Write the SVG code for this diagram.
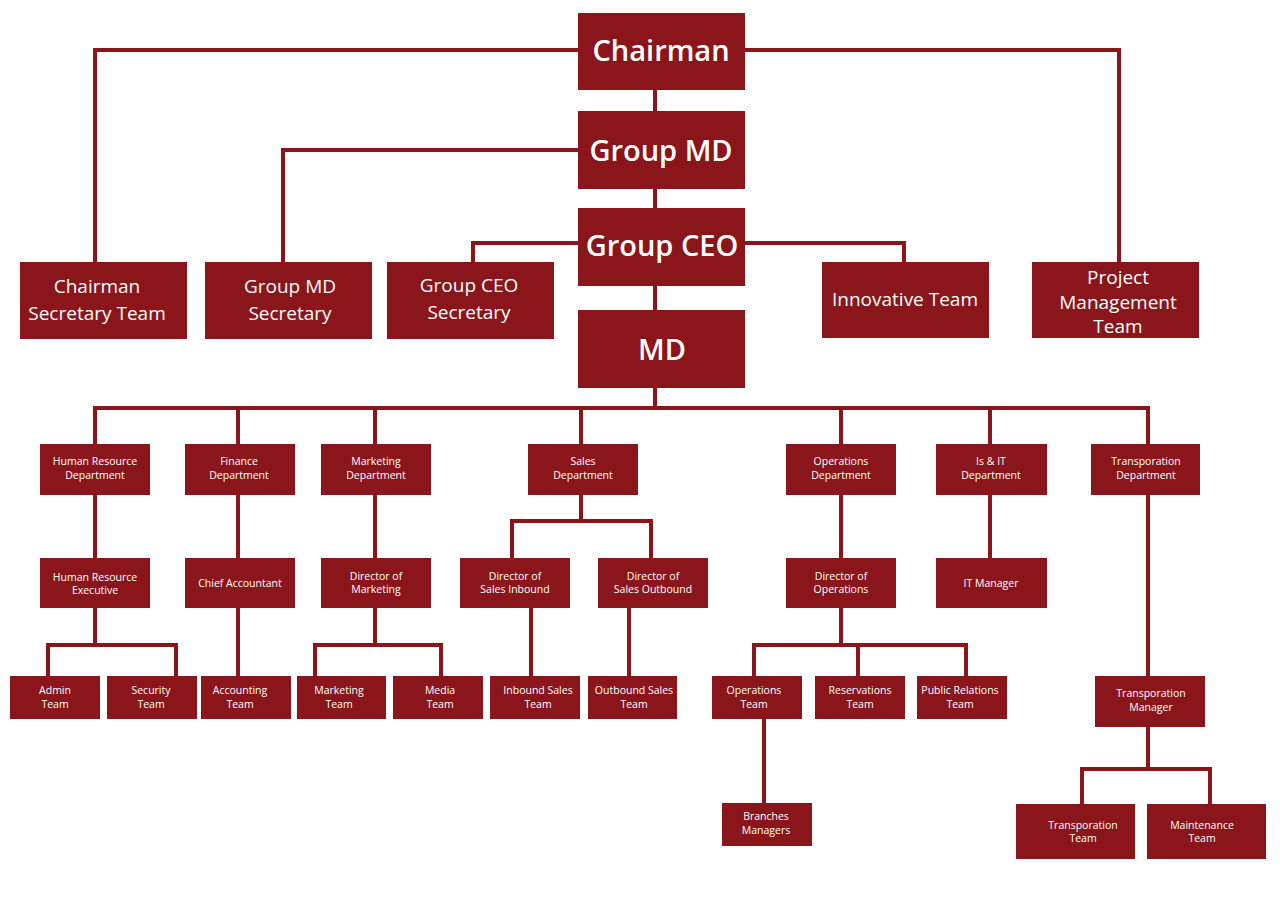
<svg xmlns="http://www.w3.org/2000/svg" width="1280" height="906" viewBox="0 0 1280 906">
<style>
.bg{fill:#ffffff}
.box{fill:#8a161b}
.c{fill:none;stroke:#8a161b;stroke-width:4}
text{fill:#ffffff;font-family:"Open Sans","Liberation Sans",sans-serif;text-anchor:middle}
.xl{font-size:29px;font-weight:600}
.l{font-size:19px}
.s{font-size:10.5px}
</style>
<rect class="bg" x="0" y="0" width="1280" height="906"/>
<g id="connectors">
<path class="c" d="M578 50 H95 V262"/>
<path class="c" d="M745 50 H1119 V262"/>
<path class="c" d="M578 150 H283 V262"/>
<path class="c" d="M578 243 H473 V262"/>
<path class="c" d="M745 243 H904 V262"/>
<path class="c" d="M655 90 V408"/>
<path class="c" d="M95 444 V408 H1148 V444"/>
<path class="c" d="M238 408 V444 M375 408 V444 M581 408 V444 M841 408 V444 M990 408 V444"/>
<path class="c" d="M95 495 V558 M95 608 V645"/>
<path class="c" d="M48 676 V645 H176 V676"/>
<path class="c" d="M238 495 V558 M238 608 V676"/>
<path class="c" d="M375 495 V558 M375 608 V645"/>
<path class="c" d="M315 676 V645 H441 V676"/>
<path class="c" d="M581 495 V521"/>
<path class="c" d="M512 558 V521 H651 V558"/>
<path class="c" d="M531 608 V676 M629 608 V676"/>
<path class="c" d="M841 495 V558 M841 608 V645"/>
<path class="c" d="M754 676 V645 H966 V676 M858 645 V676"/>
<path class="c" d="M764 719 V803"/>
<path class="c" d="M990 495 V558"/>
<path class="c" d="M1148 495 V676 M1148 727 V769"/>
<path class="c" d="M1082 804 V769 H1210 V804"/>
</g>
<g id="chairman"><rect class="box" x="578" y="13" width="167" height="77"/><text class="xl" x="661" y="61">Chairman</text></g>
<g id="group-md"><rect class="box" x="578" y="111" width="167" height="78"/><text class="xl" x="661" y="161">Group MD</text></g>
<g id="group-ceo"><rect class="box" x="578" y="208" width="167" height="78"/><text class="xl" x="662" y="256">Group CEO</text></g>
<g id="md"><rect class="box" x="578" y="310" width="167" height="78"/><text class="xl" x="662" y="360">MD</text></g>
<g id="chairman-secretary"><rect class="box" x="20" y="262" width="167" height="77"/><text class="l" x="97" y="293">Chairman</text><text class="l" x="97" y="320">Secretary Team</text></g>
<g id="group-md-secretary"><rect class="box" x="205" y="262" width="167" height="77"/><text class="l" x="290" y="293">Group MD</text><text class="l" x="290" y="320">Secretary</text></g>
<g id="group-ceo-secretary"><rect class="box" x="387" y="262" width="167" height="77"/><text class="l" x="469" y="292">Group CEO</text><text class="l" x="469" y="319">Secretary</text></g>
<g id="innovative-team"><rect class="box" x="822" y="262" width="167" height="76"/><text class="l" x="905" y="306">Innovative Team</text></g>
<g id="project-management"><rect class="box" x="1032" y="262" width="167" height="76"/><text class="l" x="1118" y="284">Project</text><text class="l" x="1118" y="309">Management</text><text class="l" x="1118" y="333">Team</text></g>
<g id="hr-dept"><rect class="box" x="40" y="444" width="110" height="51"/><text class="s" x="95" y="465">Human Resource</text><text class="s" x="95" y="479">Department</text></g>
<g id="finance-dept"><rect class="box" x="185" y="444" width="110" height="51"/><text class="s" x="239" y="465">Finance</text><text class="s" x="239" y="479">Department</text></g>
<g id="marketing-dept"><rect class="box" x="321" y="444" width="110" height="51"/><text class="s" x="376" y="465">Marketing</text><text class="s" x="376" y="479">Department</text></g>
<g id="sales-dept"><rect class="box" x="528" y="444" width="110" height="51"/><text class="s" x="583" y="465">Sales</text><text class="s" x="583" y="479">Department</text></g>
<g id="operations-dept"><rect class="box" x="786" y="444" width="110" height="51"/><text class="s" x="841" y="465">Operations</text><text class="s" x="841" y="479">Department</text></g>
<g id="isit-dept"><rect class="box" x="936" y="444" width="111" height="51"/><text class="s" x="991" y="465">Is &amp; IT</text><text class="s" x="991" y="479">Department</text></g>
<g id="transport-dept"><rect class="box" x="1091" y="444" width="109" height="51"/><text class="s" x="1146" y="465">Transporation</text><text class="s" x="1146" y="479">Department</text></g>
<g id="hr-exec"><rect class="box" x="40" y="558" width="110" height="50"/><text class="s" x="95" y="581">Human Resource</text><text class="s" x="95" y="594">Executive</text></g>
<g id="chief-accountant"><rect class="box" x="185" y="558" width="110" height="50"/><text class="s" x="240" y="587">Chief Accountant</text></g>
<g id="dir-marketing"><rect class="box" x="321" y="558" width="110" height="50"/><text class="s" x="376" y="580">Director of</text><text class="s" x="376" y="593">Marketing</text></g>
<g id="dir-sales-in"><rect class="box" x="460" y="558" width="110" height="50"/><text class="s" x="515" y="580">Director of</text><text class="s" x="515" y="593">Sales Inbound</text></g>
<g id="dir-sales-out"><rect class="box" x="598" y="558" width="110" height="50"/><text class="s" x="653" y="580">Director of</text><text class="s" x="653" y="593">Sales Outbound</text></g>
<g id="dir-operations"><rect class="box" x="786" y="558" width="110" height="50"/><text class="s" x="841" y="580">Director of</text><text class="s" x="841" y="593">Operations</text></g>
<g id="it-manager"><rect class="box" x="936" y="558" width="111" height="50"/><text class="s" x="991" y="587">IT Manager</text></g>
<g id="admin-team"><rect class="box" x="10" y="676" width="90" height="43"/><text class="s" x="55" y="694">Admin</text><text class="s" x="55" y="708">Team</text></g>
<g id="security-team"><rect class="box" x="107" y="676" width="90" height="43"/><text class="s" x="151" y="694">Security</text><text class="s" x="151" y="708">Team</text></g>
<g id="accounting-team"><rect class="box" x="201" y="676" width="90" height="43"/><text class="s" x="240" y="694">Accounting</text><text class="s" x="240" y="708">Team</text></g>
<g id="marketing-team"><rect class="box" x="297" y="676" width="89" height="43"/><text class="s" x="339" y="694">Marketing</text><text class="s" x="339" y="708">Team</text></g>
<g id="media-team"><rect class="box" x="393" y="676" width="90" height="43"/><text class="s" x="440" y="694">Media</text><text class="s" x="440" y="708">Team</text></g>
<g id="inbound-team"><rect class="box" x="490" y="676" width="90" height="43"/><text class="s" x="538" y="694">Inbound Sales</text><text class="s" x="538" y="708">Team</text></g>
<g id="outbound-team"><rect class="box" x="588" y="676" width="89" height="43"/><text class="s" x="634" y="694">Outbound Sales</text><text class="s" x="634" y="708">Team</text></g>
<g id="operations-team"><rect class="box" x="712" y="676" width="90" height="43"/><text class="s" x="754" y="694">Operations</text><text class="s" x="754" y="708">Team</text></g>
<g id="reservations-team"><rect class="box" x="815" y="676" width="90" height="43"/><text class="s" x="860" y="694">Reservations</text><text class="s" x="860" y="708">Team</text></g>
<g id="pr-team"><rect class="box" x="917" y="676" width="90" height="43"/><text class="s" x="960" y="694">Public Relations</text><text class="s" x="960" y="708">Team</text></g>
<g id="transport-manager"><rect class="box" x="1095" y="676" width="110" height="51"/><text class="s" x="1151" y="697">Transporation</text><text class="s" x="1151" y="711">Manager</text></g>
<g id="branches-managers"><rect class="box" x="722" y="803" width="90" height="43"/><text class="s" x="766" y="820">Branches</text><text class="s" x="766" y="834">Managers</text></g>
<g id="transport-team"><rect class="box" x="1016" y="804" width="119" height="55"/><text class="s" x="1083" y="829">Transporation</text><text class="s" x="1083" y="842">Team</text></g>
<g id="maintenance-team"><rect class="box" x="1147" y="804" width="119" height="55"/><text class="s" x="1202" y="829">Maintenance</text><text class="s" x="1202" y="842">Team</text></g>
</svg>
